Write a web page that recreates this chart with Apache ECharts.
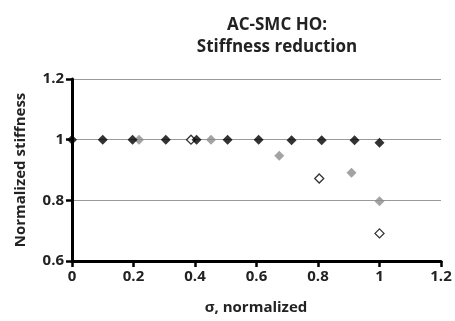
<!DOCTYPE html>
<html lang="en">
  <head>
    <meta charset="UTF-8" />
    <title>AC-SMC HO stiffness</title>
  </head>
  <body style="margin: 0">
    <div id="main" style="width: 455px; height: 321px"></div>
    <script src="https://cdn.jsdelivr.net/npm/echarts@6/dist/echarts.min.js"></script>
    <script>
      // black filled diamonds
      var blackX = [0, 0.1, 0.197, 0.305, 0.405, 0.506, 0.607, 0.714, 0.812, 0.919, 1.0];
      var blackY = [1, 1, 1, 1, 1, 1, 1, 0.998, 0.998, 0.998, 0.99];
      // gray filled diamonds
      var grayX = [0.218, 0.452, 0.674, 0.909, 1.0];
      var grayY = [1, 1, 0.947, 0.891, 0.797];
      // open diamonds
      var openX = [0.387, 0.804, 1.0];
      var openY = [1, 0.872, 0.691];

      var xName = "σ, normalized";
      var yName = "Normalized stiffness";
      var xMin = 0, xMax = 1.2, yMin = 0.6, yMax = 1.2;

      function pairs(xs, ys) {
        return xs.map(function (x, i) { return [x, ys[i]]; });
      }

      var font = "'Open Sans', sans-serif";
      var chart = echarts.init(document.getElementById("main"));

      chart.setOption({
        animation: false,
        title: {
          text: "AC-SMC HO:\nStiffness reduction",
          left: 272,
          textAlign: "center",
          top: 9,
          textStyle: { fontFamily: font, fontWeight: "bold", fontSize: 17, color: "#222", lineHeight: 22 }
        },
        grid: { left: 72, right: 14, top: 79, bottom: 60 },
        // axis titles as plain text
        graphic: [
          {
            type: "text",
            x: 256,
            y: 308,
            style: { text: xName, fill: "#222", font: "bold 15px " + font, align: "center", verticalAlign: "middle" }
          },
          {
            type: "text",
            x: 21,
            y: 170,
            rotation: Math.PI / 2,
            style: { text: yName, fill: "#222", font: "bold 15px " + font, align: "center", verticalAlign: "middle" }
          }
        ],
        xAxis: {
          type: "value",
          min: xMin,
          max: xMax,
          interval: 0.2,
          axisLine: { show: true, lineStyle: { color: "#000", width: 3 } },
          axisTick: { show: true, length: 6, lineStyle: { color: "#000", width: 2.5 } },
          splitLine: { show: false },
          axisLabel: { fontFamily: font, fontWeight: "bold", fontSize: 15, color: "#222" }
        },
        yAxis: {
          type: "value",
          min: yMin,
          max: yMax,
          interval: 0.2,
          axisLine: { show: true, lineStyle: { color: "#000", width: 3 } },
          axisTick: { show: true, length: 6, lineStyle: { color: "#000", width: 2.5 } },
          splitLine: { show: true, lineStyle: { color: "#999" } },
          axisLabel: { fontFamily: font, fontWeight: "bold", fontSize: 15, color: "#222" }
        },
        series: [
          {
            type: "scatter",
            symbol: "diamond",
            symbolSize: 10,
            itemStyle: { color: "#8c8c8c" },
            data: pairs(grayX, grayY)
          },
          {
            type: "scatter",
            symbol: "diamond",
            symbolSize: 9,
            itemStyle: { color: "#fff", borderColor: "#000", borderWidth: 1.3 },
            data: pairs(openX, openY)
          },
          {
            type: "scatter",
            symbol: "diamond",
            symbolSize: 10,
            itemStyle: { color: "#000" },
            data: pairs(blackX, blackY),
            // axis lines traced along the plot edges as well
            markLine: {
              silent: true,
              symbol: "none",
              animation: false,
              label: { show: false },
              lineStyle: { color: "#000", width: 3, type: "solid" },
              data: [{ xAxis: xMin }, { yAxis: yMin }]
            }
          }
        ]
      });
    </script>
  </body>
</html>
